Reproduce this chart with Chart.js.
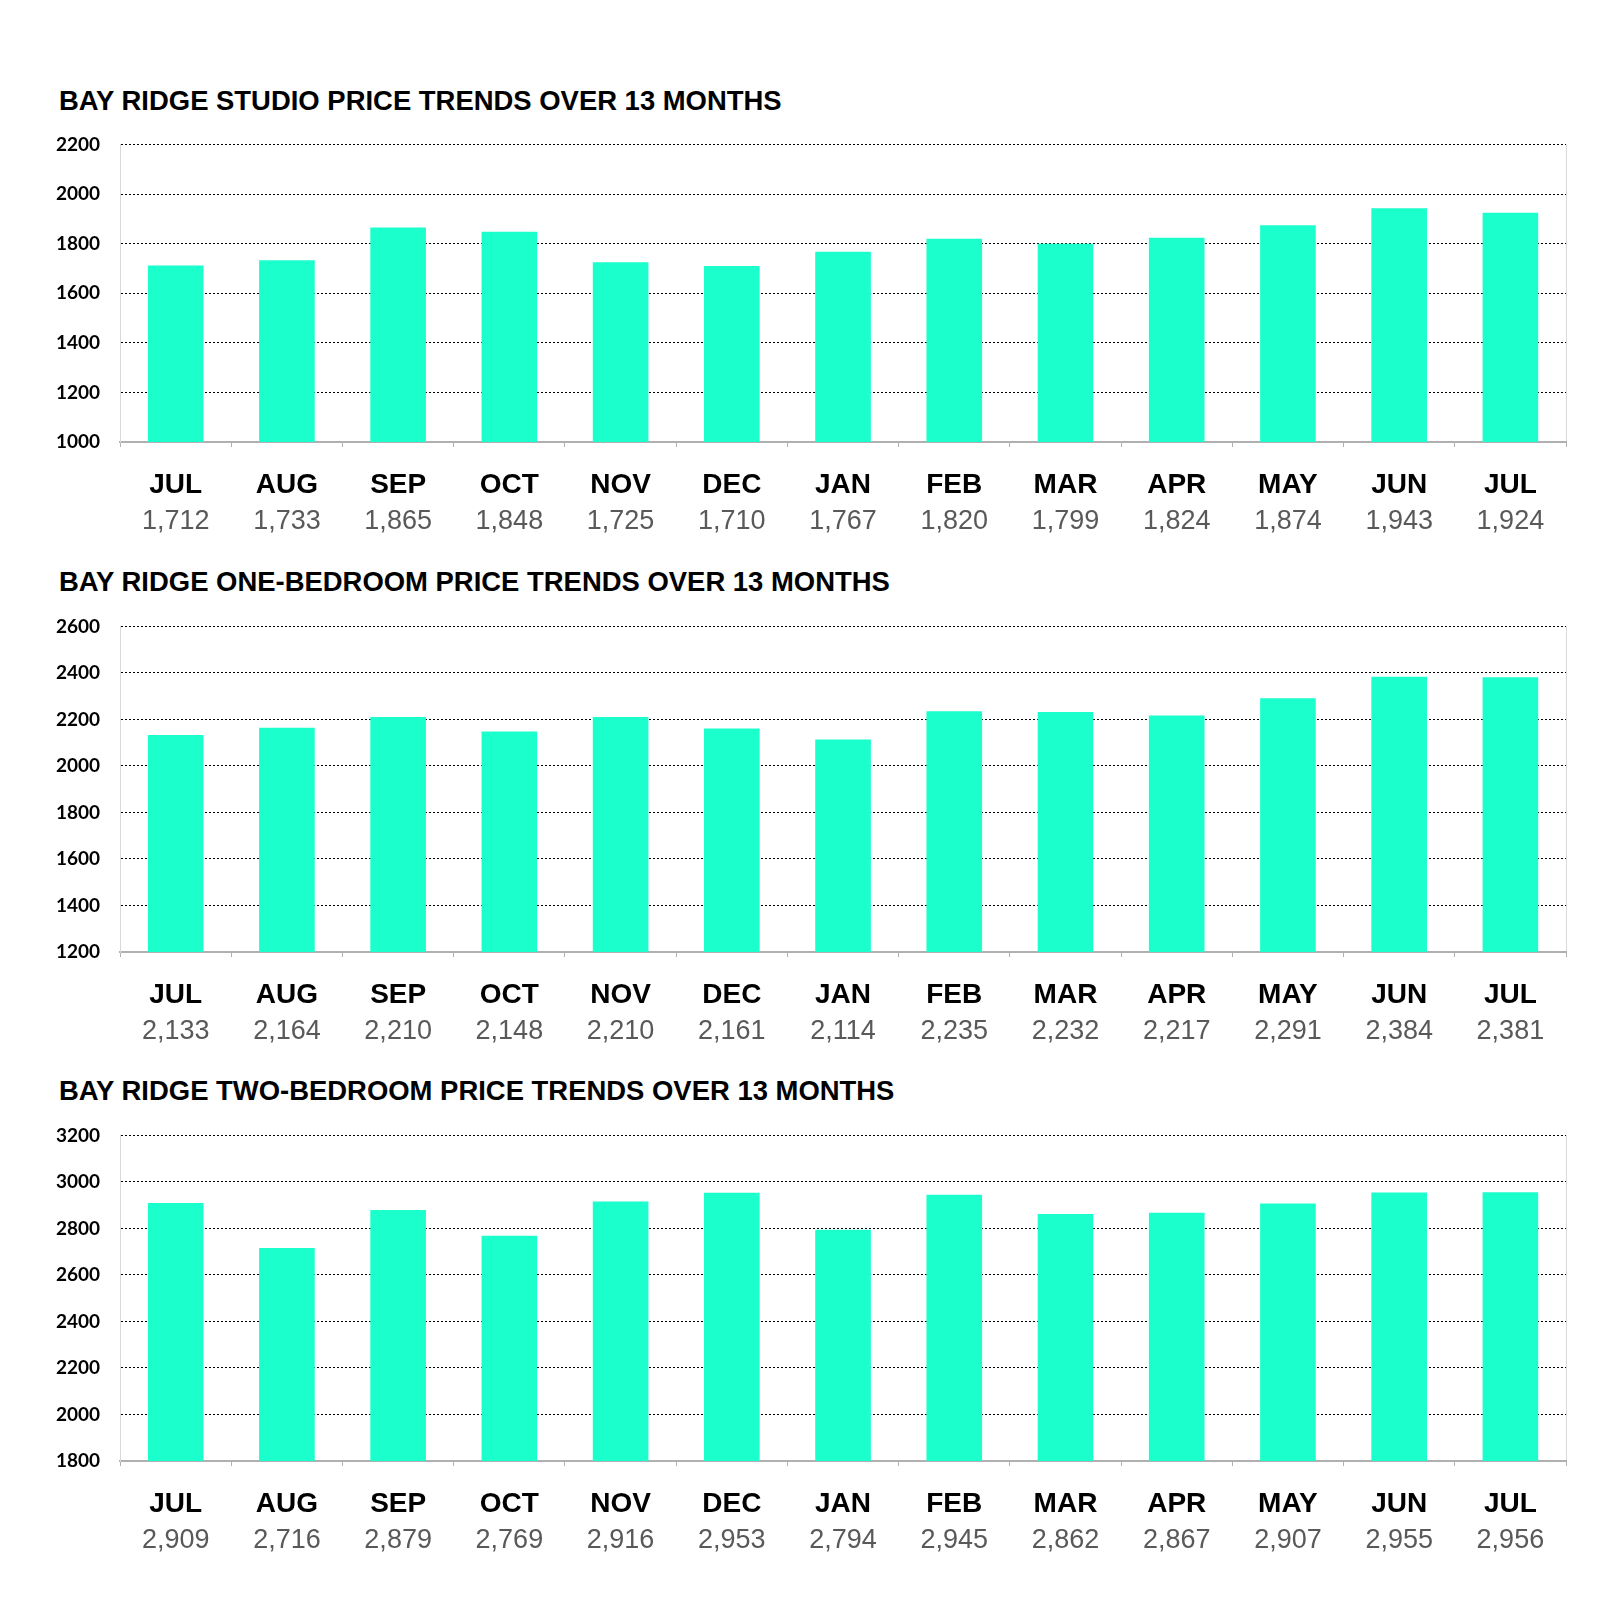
<!DOCTYPE html>
<html><head><meta charset="utf-8">
<script src="https://cdn.jsdelivr.net/npm/chart.js@4.4.0/dist/chart.umd.min.js"></script>
<style>
body{margin:0;background:#fff;width:1600px;height:1623px;position:relative;overflow:hidden}
.title{position:absolute;left:59px;font:bold 27.45px "Liberation Sans",Arial,sans-serif;color:#000;line-height:32px;white-space:nowrap}
.box{position:absolute;left:0;width:1600px}
</style></head><body>
<div class="title" style="top:85px">BAY RIDGE STUDIO PRICE TRENDS OVER 13 MONTHS</div>
<div class="box" style="top:113px;height:432px"><canvas id="c1"></canvas></div>
<div class="title" style="top:566px">BAY RIDGE ONE-BEDROOM PRICE TRENDS OVER 13 MONTHS</div>
<div class="box" style="top:595px;height:460px"><canvas id="c2"></canvas></div>
<div class="title" style="top:1075px">BAY RIDGE TWO-BEDROOM PRICE TRENDS OVER 13 MONTHS</div>
<div class="box" style="top:1104px;height:460px"><canvas id="c3"></canvas></div>
<script>
const months = ['JUL','AUG','SEP','OCT','NOV','DEC','JAN','FEB','MAR','APR','MAY','JUN','JUL'];
const studioPrices = [1712,1733,1865,1848,1725,1710,1767,1820,1799,1824,1874,1943,1924];
const oneBedPrices = [2133,2164,2210,2148,2210,2161,2114,2235,2232,2217,2291,2384,2381];
const twoBedPrices = [2909,2716,2879,2769,2916,2953,2794,2945,2862,2867,2907,2955,2956];
const studioAxis = {min:1000, max:2200, step:200};
const oneBedAxis = {min:1200, max:2600, step:200};
const twoBedAxis = {min:1800, max:3200, step:200};

const BAR = '#1affcc';
function makeChart(id, values, axis){
  const valueLabels = values.map(v => v.toLocaleString('en-US'));
  return new Chart(document.getElementById(id), {
    type:'bar',
    data:{labels:months, datasets:[{data:values, backgroundColor:BAR, borderWidth:0,
      categoryPercentage:1, barPercentage:0.5, xAxisID:'x', yAxisID:'y'}]},
    options:{
      responsive:true, maintainAspectRatio:false, animation:false,
      layout:{padding:{left:36,right:34,top:0,bottom:0}},
      plugins:{legend:{display:false}, tooltip:{enabled:false}, title:{display:false}},
      scales:{
        x:{type:'category', position:'bottom', offset:true,
          afterFit: s => { s.height = 63; },
          grid:{offset:true, drawOnChartArea:true, drawTicks:true, tickLength:5, tickColor:'#b0b0b0', lineWidth:1,
            color: c => (c.type !== 'tick' || c.index === 0) ? '#d9d9d9' : 'rgba(0,0,0,0)'},
          border:{display:true, color:'#b0b0b0', width:2},
          ticks:{padding:21.5, color:'#000', maxRotation:0, autoSkip:false,
            font:{family:'"Liberation Sans", Arial, sans-serif', weight:'bold', size:28}}},
        x2:{type:'category', labels:valueLabels, position:'bottom', offset:true,
          afterFit: s => { s.height = 40; },
          grid:{display:false, drawTicks:false}, border:{display:false},
          ticks:{padding:0, color:'#595959', maxRotation:0, autoSkip:false,
            font:{family:'"Liberation Sans", Arial, sans-serif', size:27}}},
        y:{min:axis.min, max:axis.max,
          ticks:{stepSize:axis.step, padding:20, color:'#000', callback:v => String(v),
            font:{family:'Lato, sans-serif', weight:'bold', size:19}},
          grid:{drawTicks:false, lineWidth:1,
            color: c => (c.tick && c.tick.value === axis.min) ? 'rgba(0,0,0,0)' : '#000'},
          border:{display:true, color:'#d9d9d9', width:1, dash:[2,2]}}
      }
    }
  });
}
makeChart('c1', studioPrices, studioAxis);
makeChart('c2', oneBedPrices, oneBedAxis);
makeChart('c3', twoBedPrices, twoBedAxis);
</script>
</body></html>
